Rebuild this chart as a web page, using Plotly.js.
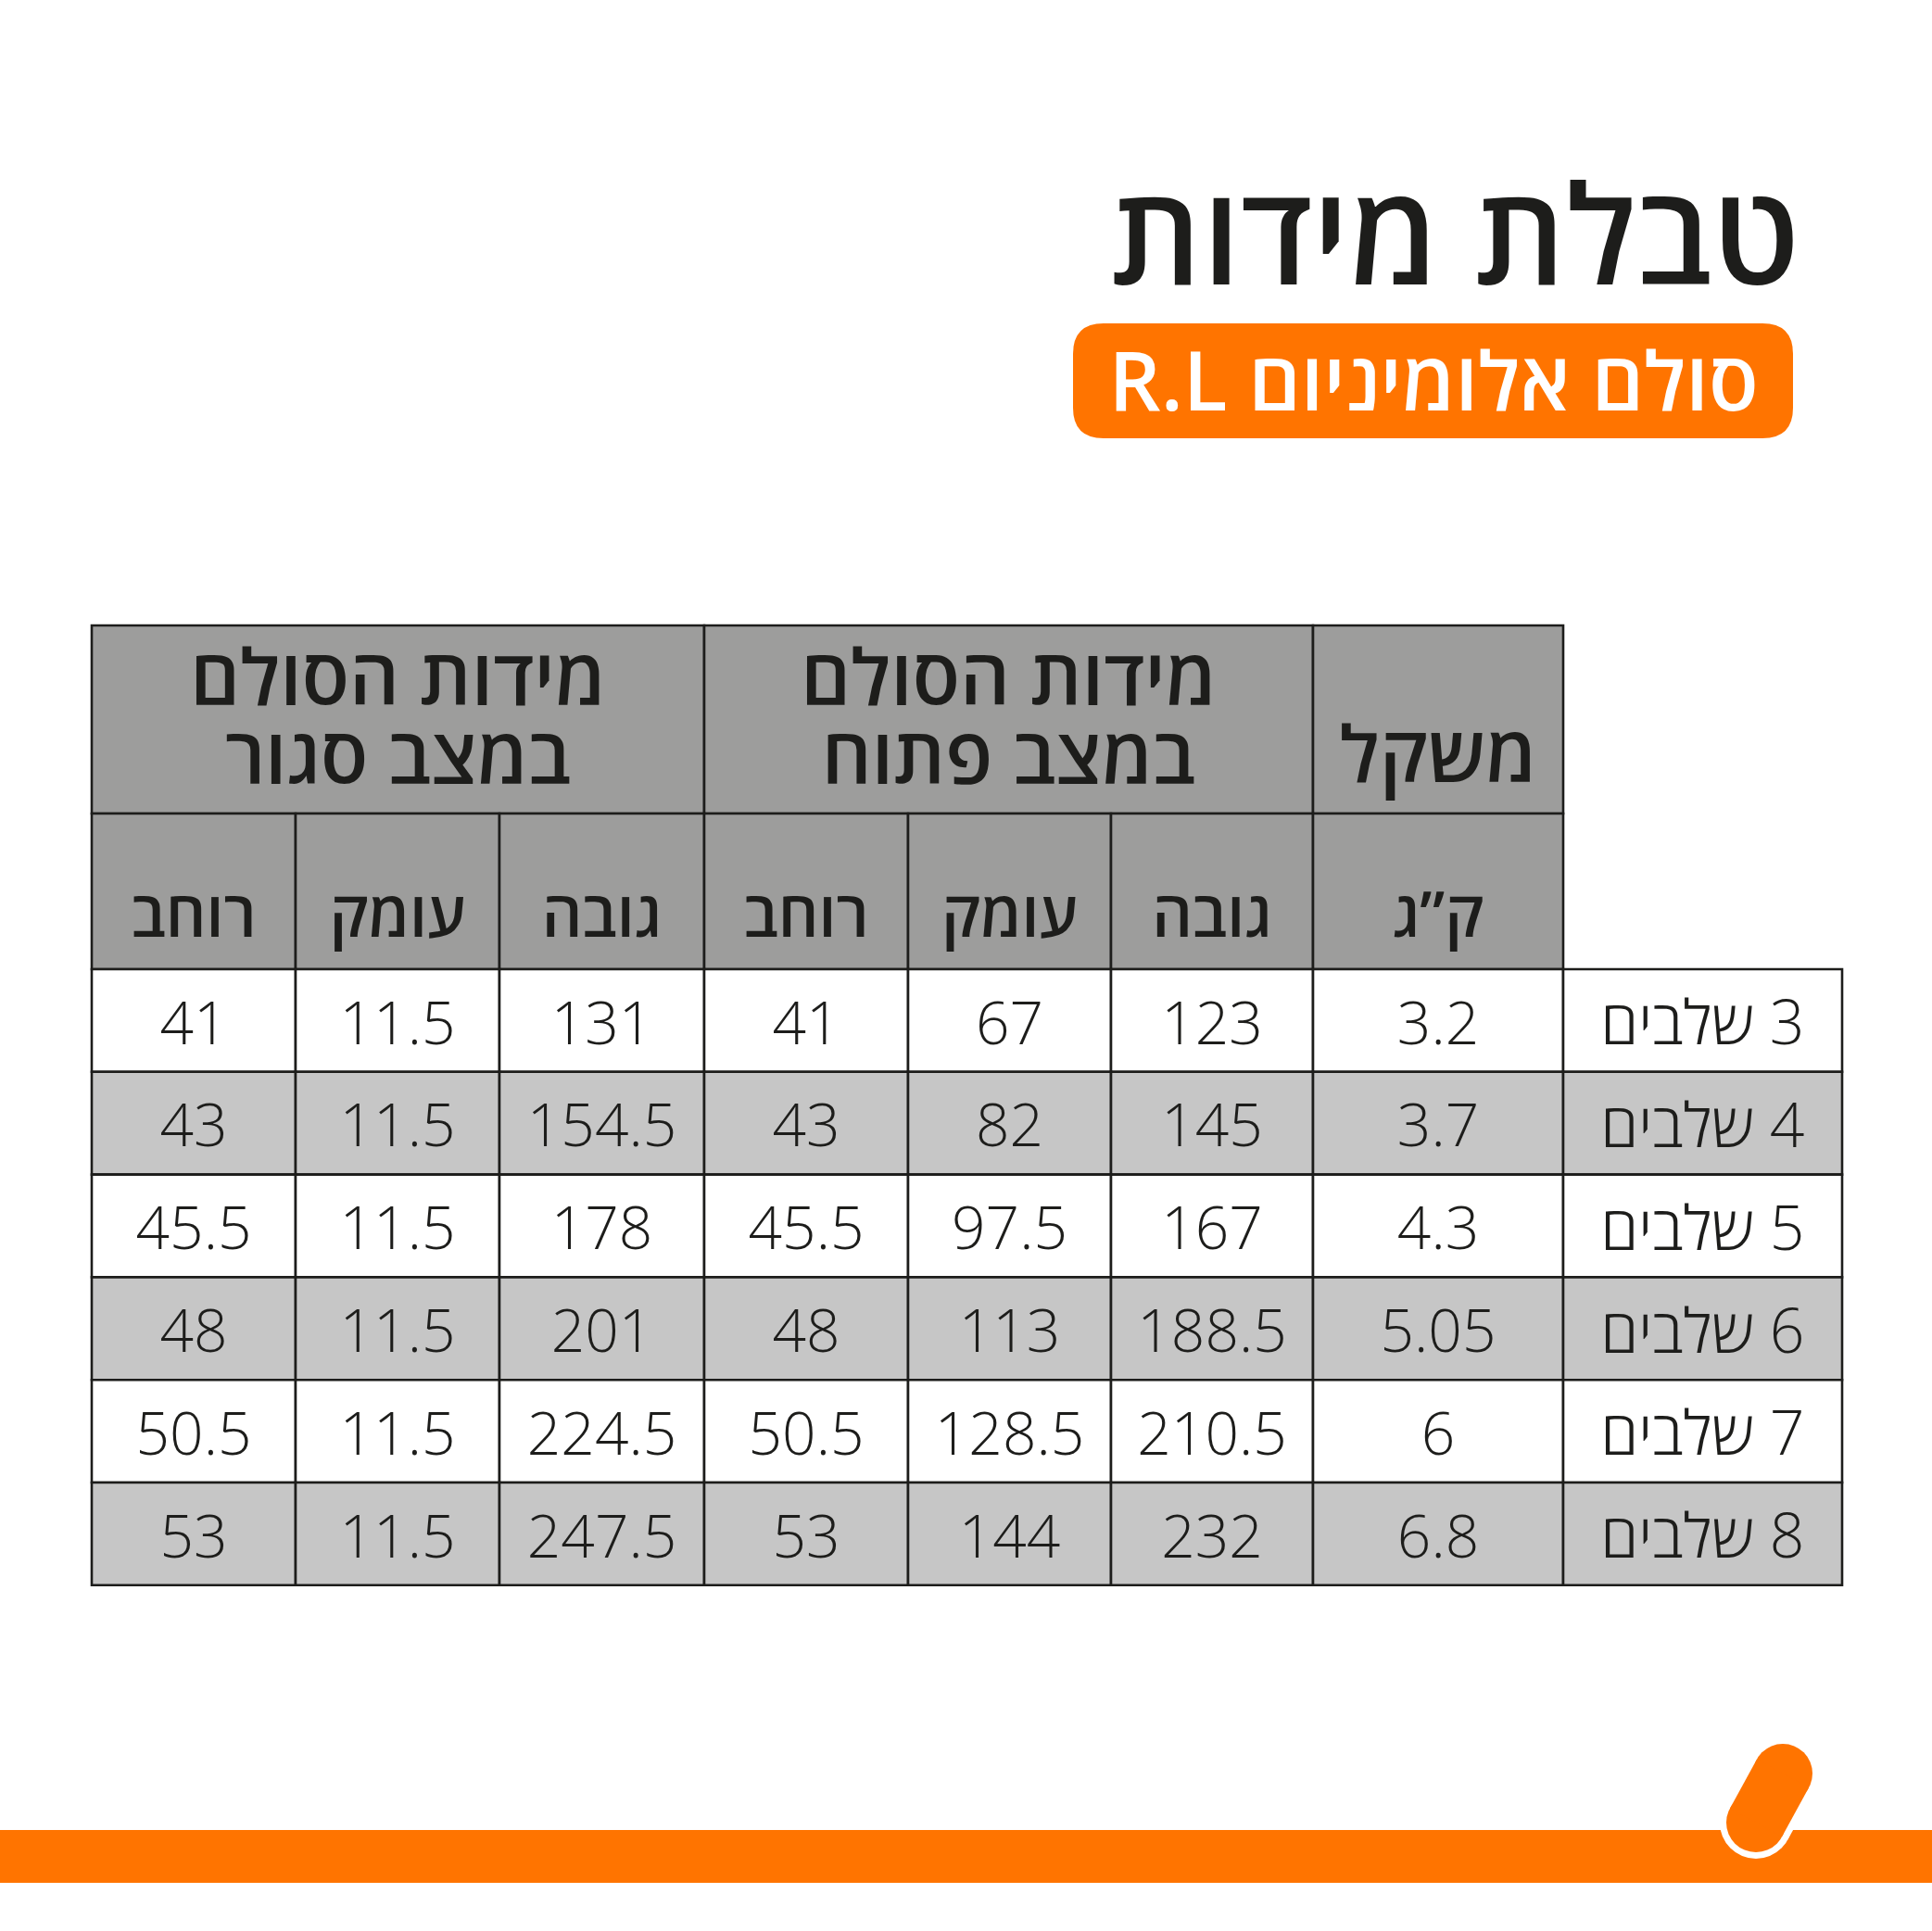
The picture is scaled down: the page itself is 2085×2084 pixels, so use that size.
<!DOCTYPE html>
<html>
<head>
<meta charset="utf-8">
<script src="https://cdn.plot.ly/plotly-3.0.1.min.js"></script>
<style>
  html, body { margin: 0; padding: 0; background: #ffffff; }
  #chart { width: 2085px; height: 2084px; }
</style>
</head>
<body>
<div id="chart"></div>
<script>
// ---------------- DATA ----------------
const titleText = "טבלת מידות";
const subtitleText = "סולם אלומיניום R.L";
const groupHeaders = [["מידות הסולם", "במצב סגור"], ["מידות הסולם", "במצב פתוח"]];
const weightHeader = "משקל";
const subHeaders = ["רוחב", "עומק", "גובה", "רוחב", "עומק", "גובה", "ק”ג"];
const steps = [3, 4, 5, 6, 7, 8];
const stepsWord = "שלבים";
const closedWidth  = [41, 43, 45.5, 48, 50.5, 53];
const closedDepth  = [11.5, 11.5, 11.5, 11.5, 11.5, 11.5];
const closedHeight = [131, 154.5, 178, 201, 224.5, 247.5];
const openWidth    = [41, 43, 45.5, 48, 50.5, 53];
const openDepth    = [67, 82, 97.5, 113, 128.5, 144];
const openHeight   = [123, 145, 167, 188.5, 210.5, 232];
const weightKg     = [3.2, 3.7, 4.3, 5.05, 6, 6.8];

// ---------------- LAYOUT CONSTANTS ----------------
const W = 2085, H = 2084;
const colEdges = [99, 319, 539, 760, 980, 1199, 1417, 1687, 1988];
const headTop = 675, headSplit = 878, bodyTop = 1046, rowH = 110.8;
const INK = "#1d1d1b", HEAD = "#9d9d9c", ALT = "#c6c6c6", ORANGE = "#ff7400";
const FONT = "'Open Sans', 'Liberation Sans', 'DejaVu Sans', sans-serif";
const RLE = "\u202B", PDF = "\u202C";
const rtl = s => RLE + s + PDF;
const SHIFT = 0.065; // letter-centre correction, in em

const valueColumns = [closedWidth, closedDepth, closedHeight, openWidth, openDepth, openHeight, weightKg];
const stepLabels = steps.map(s => rtl(s + " " + stepsWord));
const nRows = steps.length;
const colCenter = c => (colEdges[c] + colEdges[c + 1]) / 2;
const rowTop = r => bodyTop + r * rowH;
const rowCenter = r => rowTop(r) + rowH / 2 + 5;

const shapes = [];
const cell = (x0, y0, x1, y1, fill) => shapes.push({
  type: "rect", xref: "x", yref: "y", x0, y0, x1, y1,
  fillcolor: fill, line: { color: INK, width: 2.6 }, layer: "below"
});

// header cells
cell(colEdges[0], headTop, colEdges[3], headSplit, HEAD);
cell(colEdges[3], headTop, colEdges[6], headSplit, HEAD);
cell(colEdges[6], headTop, colEdges[7], headSplit, HEAD);
subHeaders.forEach((_, c) => cell(colEdges[c], headSplit, colEdges[c + 1], bodyTop, HEAD));
// body cells
for (let r = 0; r < nRows; r++) {
  for (let c = 0; c < colEdges.length - 1; c++) {
    cell(colEdges[c], rowTop(r), colEdges[c + 1], rowTop(r) + rowH, r % 2 ? ALT : "#ffffff");
  }
}

// title pill
shapes.push({
  type: "path", xref: "x", yref: "y", layer: "below",
  path: (() => {
    const x0 = 1158, x1 = 1935, y0 = 349, y1 = 473, rr = 33;
    return `M${x0 + rr},${y0} L${x1 - rr},${y0} Q${x1},${y0} ${x1},${y0 + rr} L${x1},${y1 - rr} Q${x1},${y1} ${x1 - rr},${y1} L${x0 + rr},${y1} Q${x0},${y1} ${x0},${y1 - rr} L${x0},${y0 + rr} Q${x0},${y0} ${x0 + rr},${y0} Z`;
  })(),
  fillcolor: ORANGE, line: { width: 0 }
});

// bottom bar
shapes.push({ type: "rect", xref: "x", yref: "y", x0: 0, x1: W, y0: 1975, y1: 2032,
  fillcolor: ORANGE, line: { width: 0 }, layer: "above" });

// decorative stadium
function stadium(c1, c2, r, fill) {
  const dx = c2[0] - c1[0], dy = c2[1] - c1[1], L = Math.hypot(dx, dy);
  const nx = -dy / L * r, ny = dx / L * r;
  shapes.push({ type: "circle", xref: "x", yref: "y", x0: c1[0] - r, x1: c1[0] + r, y0: c1[1] - r, y1: c1[1] + r,
    fillcolor: fill, line: { width: 0 }, layer: "above" });
  shapes.push({ type: "circle", xref: "x", yref: "y", x0: c2[0] - r, x1: c2[0] + r, y0: c2[1] - r, y1: c2[1] + r,
    fillcolor: fill, line: { width: 0 }, layer: "above" });
  shapes.push({ type: "path", xref: "x", yref: "y", layer: "above",
    path: `M${c1[0] + nx},${c1[1] + ny} L${c2[0] + nx},${c2[1] + ny} L${c2[0] - nx},${c2[1] - ny} L${c1[0] - nx},${c1[1] - ny} Z`,
    fillcolor: fill, line: { width: 0 } });
}
stadium([1924, 1914], [1895, 1967], 39, "#ffffff");
stadium([1924, 1914], [1895, 1967], 32, ORANGE);

// ---------------- TRACES ----------------
const traces = [];
const textTrace = (x, y, text, size, weight, color, pos) => traces.push({
  type: "scatter", mode: "text", x, y: y.map(v => v + SHIFT * size), text,
  textposition: pos || "middle center",
  textfont: { family: FONT, size, weight, color: color || INK },
  hoverinfo: "skip", showlegend: false, cliponaxis: false
});

// title + subtitle
textTrace([1942], [260], [titleText], 148, 600, INK, "middle left");
textTrace([1547], [415], [rtl(subtitleText)], 88, 600, "#ffffff");

// group headers (two lines each)
const groupCenters = [(colEdges[0] + colEdges[3]) / 2, (colEdges[3] + colEdges[6]) / 2];
textTrace(groupCenters, [735, 735], groupHeaders.map(g => g[0]), 84, 600);
textTrace(groupCenters, [820, 820], groupHeaders.map(g => g[1]), 84, 600);
textTrace([colCenter(6)], [818], [weightHeader], 84, 600);

// sub headers
textTrace(subHeaders.map((_, c) => colCenter(c)), subHeaders.map(() => 990), subHeaders.map(rtl), 68, 600);

// body values
valueColumns.forEach((col, c) => {
  textTrace(col.map(() => colCenter(c)), col.map((_, r) => rowCenter(r)), col.map(v => String(v)), 64, 300);
});
textTrace(stepLabels.map(() => colCenter(7)), stepLabels.map((_, r) => rowCenter(r)), stepLabels, 66, 300);

const layout = {
  width: W, height: H,
  margin: { l: 0, r: 0, t: 0, b: 0, pad: 0 },
  paper_bgcolor: "#ffffff", plot_bgcolor: "#ffffff",
  xaxis: { range: [0, W], visible: false, fixedrange: true },
  yaxis: { range: [H, 0], visible: false, fixedrange: true },
  shapes, showlegend: false
};

Plotly.newPlot("chart", traces, layout, { staticPlot: true, displayModeBar: false });
</script>
</body>
</html>
